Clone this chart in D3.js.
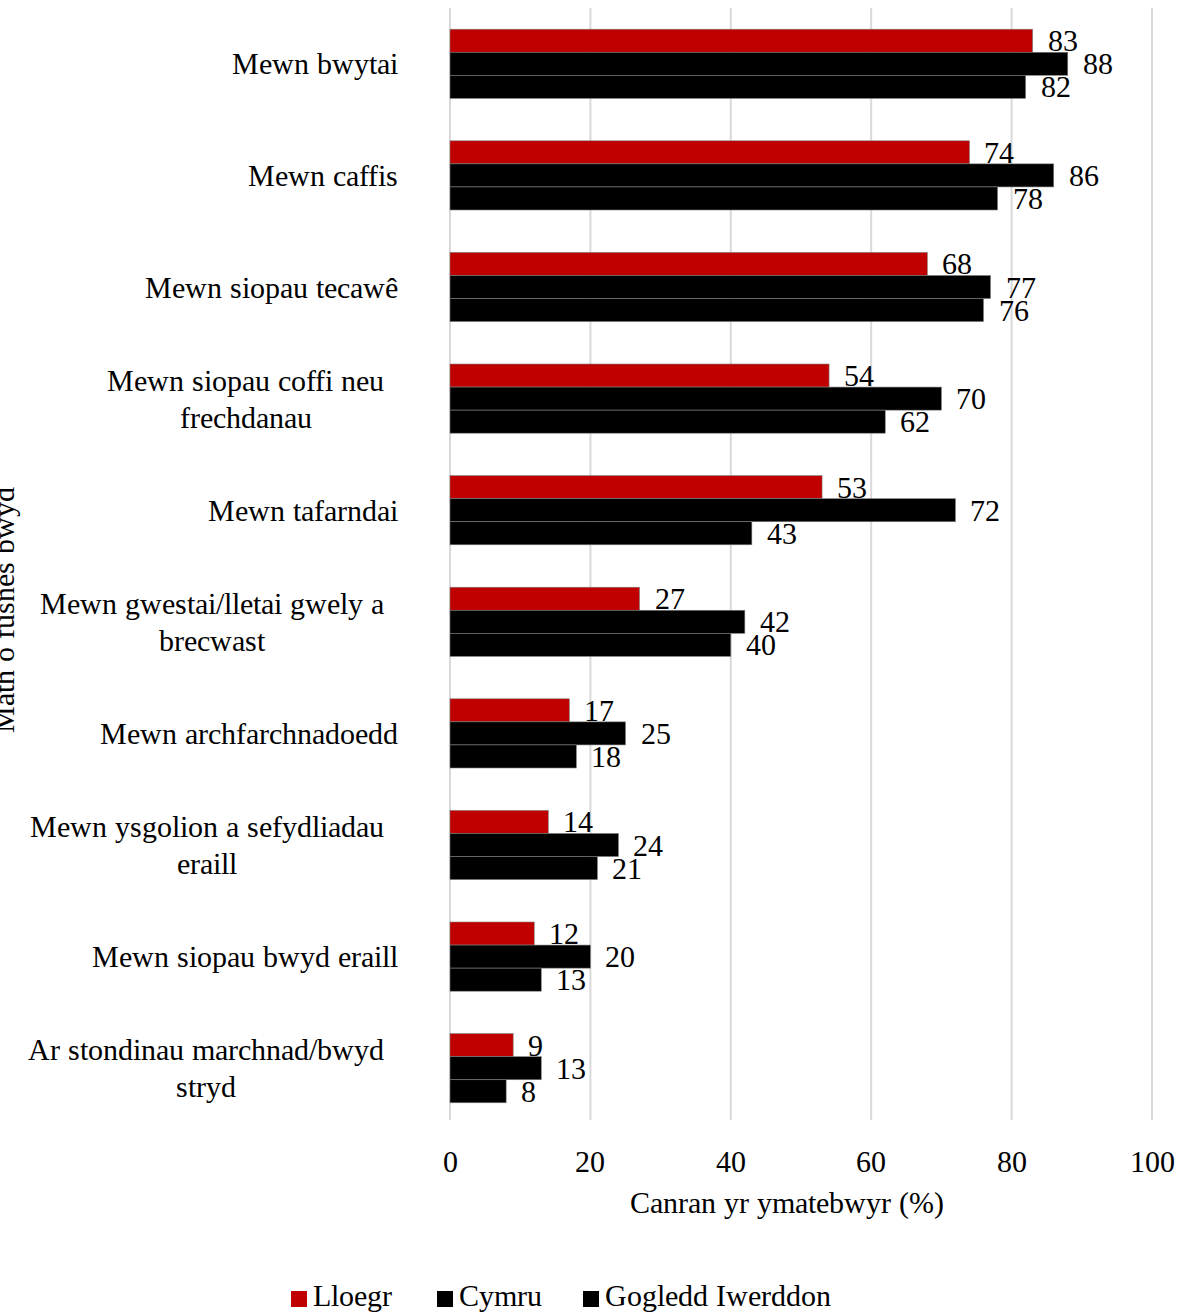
<!DOCTYPE html>
<html><head><meta charset="utf-8">
<script src="https://cdn.jsdelivr.net/npm/d3@7"></script>
<style>
@font-face{font-family:"TimesX";src:local("Liberation Serif"),local("LiberationSerif"),local("LiberationSerif-Regular"),local("Tinos"),local("Times New Roman");}
body{margin:0;background:#fff;} svg{display:block;}
</style>
</head><body>
<svg id="c" width="1187" height="1313"></svg>
<script>
const categories = ["Mewn bwytai","Mewn caffis","Mewn siopau tecawê","Mewn siopau coffi neu\nfrechdanau","Mewn tafarndai","Mewn gwestai/lletai gwely a\nbrecwast","Mewn archfarchnadoedd","Mewn ysgolion a sefydliadau\neraill","Mewn siopau bwyd eraill","Ar stondinau marchnad/bwyd\nstryd"];
const seriesNames = ["Lloegr","Cymru","Gogledd Iwerddon"];
const lloegr = [83,74,68,54,53,27,17,14,12,9];
const cymru = [88,86,77,70,72,42,25,24,20,13];
const gogleddIwerddon = [82,78,76,62,43,40,18,21,13,8];
const xTicks = [0,20,40,60,80,100];
const colors = ["#c00000","#000000","#000000"];
const xTitle = "Canran yr ymatebwyr (%)";
const yTitle = "Math o fusnes bwyd";

const FONT = "TimesX, 'DejaVu Serif', serif";
const FS = 30;
const series = [lloegr, cymru, gogleddIwerddon];
const svg = d3.select("#c");
const x = d3.scaleLinear().domain([0,100]).range([450,1152]);
const y = d3.scaleBand().domain(d3.range(categories.length)).range([8,1124]).paddingInner(0.38).paddingOuter(0.19);
const inner = d3.scaleBand().domain(d3.range(series.length)).range([0,y.bandwidth()]);

svg.append("g").selectAll("line").data(xTicks).join("line")
  .attr("x1",d=>x(d)).attr("x2",d=>x(d)).attr("y1",8).attr("y2",1120)
  .attr("stroke","#d9d9d9").attr("stroke-width",2);

series.forEach((vals,si)=>{
  const g = svg.append("g");
  g.selectAll("rect").data(vals).join("rect")
    .attr("x",x(0)).attr("y",(d,i)=>y(i)+inner(si))
    .attr("width",d=>x(d)-x(0)).attr("height",inner.bandwidth())
    .attr("fill",colors[si]).attr("stroke","#7f7f7f").attr("stroke-width",0.6);
  g.selectAll("text").data(vals).join("text")
    .attr("x",d=>x(d)+15).attr("y",(d,i)=>y(i)+inner(si)+inner.bandwidth()/2)
    .attr("dy","0.35em").attr("font-size",FS).attr("font-family",FONT).text(d=>d);
});

const cl = svg.append("g");
categories.forEach((c,i)=>{
  const lines = c.split("\n");
  const cy = y(i)+y.bandwidth()/2;
  const t = cl.append("text").attr("font-size",FS).attr("font-family",FONT).attr("text-anchor","middle");
  const lh = 37;
  lines.forEach((ln,j)=>{
    t.append("tspan").attr("x",0).attr("y",cy+(j-(lines.length-1)/2)*lh).attr("dy","0.35em").text(ln);
  });
  let maxW = 0;
  t.selectAll("tspan").each(function(){maxW=Math.max(maxW,this.getComputedTextLength());});
  const R = lines.length > 1 ? 384 : 398;
  t.selectAll("tspan").attr("x",R - maxW/2);
});

svg.append("g").selectAll("text").data(xTicks).join("text")
  .attr("x",d=>x(d)).attr("y",1172).attr("text-anchor","middle").attr("font-size",FS).attr("font-family",FONT).text(d=>d);
svg.append("text").attr("x",787).attr("y",1213).attr("text-anchor","middle").attr("font-size",FS).attr("font-family",FONT).text(xTitle);

svg.append("text").attr("transform","translate(14,610) rotate(-90)").attr("text-anchor","middle").attr("font-size",FS).attr("font-family",FONT).text(yTitle);

const legX = [291,437,583];
const lg = svg.append("g");
seriesNames.forEach((n,i)=>{
  lg.append("rect").attr("x",legX[i]).attr("y",1291).attr("width",16).attr("height",16).attr("fill",colors[i]);
  lg.append("text").attr("x",legX[i]+22).attr("y",1306).attr("font-size",FS).attr("font-family",FONT).text(n);
});
</script>
</body></html>
